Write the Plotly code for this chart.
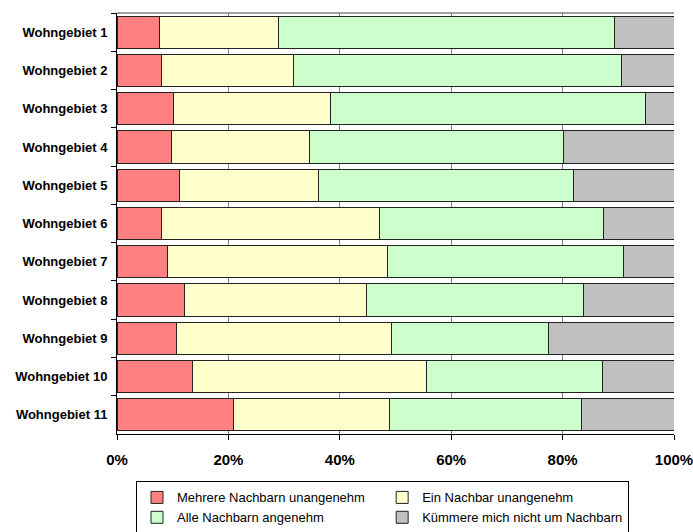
import plotly.graph_objects as go

categories = [f"Wohngebiet {i}" for i in range(1, 12)]
series_names = ["Mehrere Nachbarn unangenehm", "Ein Nachbar unangenehm",
                "Alle Nachbarn angenehm", "Kümmere mich nicht um Nachbarn"]
mehrere = [7.7, 7.9, 10.2, 9.8, 11.3, 8.0, 9.0, 12.2, 10.6, 13.5, 20.9]
ein = [21.3, 23.7, 28.2, 24.8, 24.8, 39.1, 39.5, 32.6, 38.7, 42.1, 28.1]
alle = [60.3, 58.9, 56.4, 45.5, 45.8, 40.2, 42.4, 38.9, 28.1, 31.6, 34.4]
kuemmere = [10.7, 9.5, 5.2, 19.9, 18.1, 12.7, 9.1, 16.3, 22.6, 12.8, 16.6]
colors = ["#FF8080", "#FFFFCC", "#CCFFCC", "#C0C0C0"]
tick_vals = [0, 20, 40, 60, 80, 100]
tick_text = ["0%", "20%", "40%", "60%", "80%", "100%"]

fig = go.Figure()
for name, vals, col in zip(series_names, [mehrere, ein, alle, kuemmere], colors):
    fig.add_trace(go.Bar(
        y=categories, x=vals, name=name, orientation="h",
        marker=dict(color=col, line=dict(color="#222222", width=1)),
    ))

fig.update_layout(
    barmode="stack", barnorm="percent", bargap=0.16,
    width=693, height=532,
    margin=dict(l=117, r=19, t=13, b=98, autoexpand=False),
    paper_bgcolor="white", plot_bgcolor="white",
    font=dict(family="Liberation Sans, Arial", color="black", size=12),
    xaxis=dict(range=[0, 100], tickvals=tick_vals, ticktext=tick_text,
               showgrid=True, gridcolor="#808080", gridwidth=1,
               showline=True, linecolor="black", linewidth=1,
               ticks="outside", ticklen=5, tickcolor="black",
               tickfont=dict(size=15, weight="bold"), automargin=False,
               ticklabelstandoff=7, ticklabeloverflow="allow",
               zeroline=False, fixedrange=True),
    yaxis=dict(autorange="reversed", showline=True, linecolor="black", linewidth=1,
               ticks="outside", ticklen=5, tickcolor="black", tickson="boundaries",
               tickfont=dict(size=13, weight="bold"), ticklabelstandoff=6,
               showgrid=False, automargin=False),
    legend=dict(orientation="h", xref="container", yref="container",
                x=136 / 693, xanchor="left", y=0.095, yanchor="top",
                bordercolor="black", borderwidth=1, bgcolor="white",
                traceorder="normal", font=dict(size=13), itemwidth=30),
    shapes=[dict(type="line", xref="paper", yref="paper", x0=0, x1=1, y0=1, y1=1,
                 line=dict(color="#A0A0A0", width=2), layer="below")],
    showlegend=True,
)

fig.write_html("out.html", config={"displayModeBar": False},
               post_script="document.body.style.margin='0';")
